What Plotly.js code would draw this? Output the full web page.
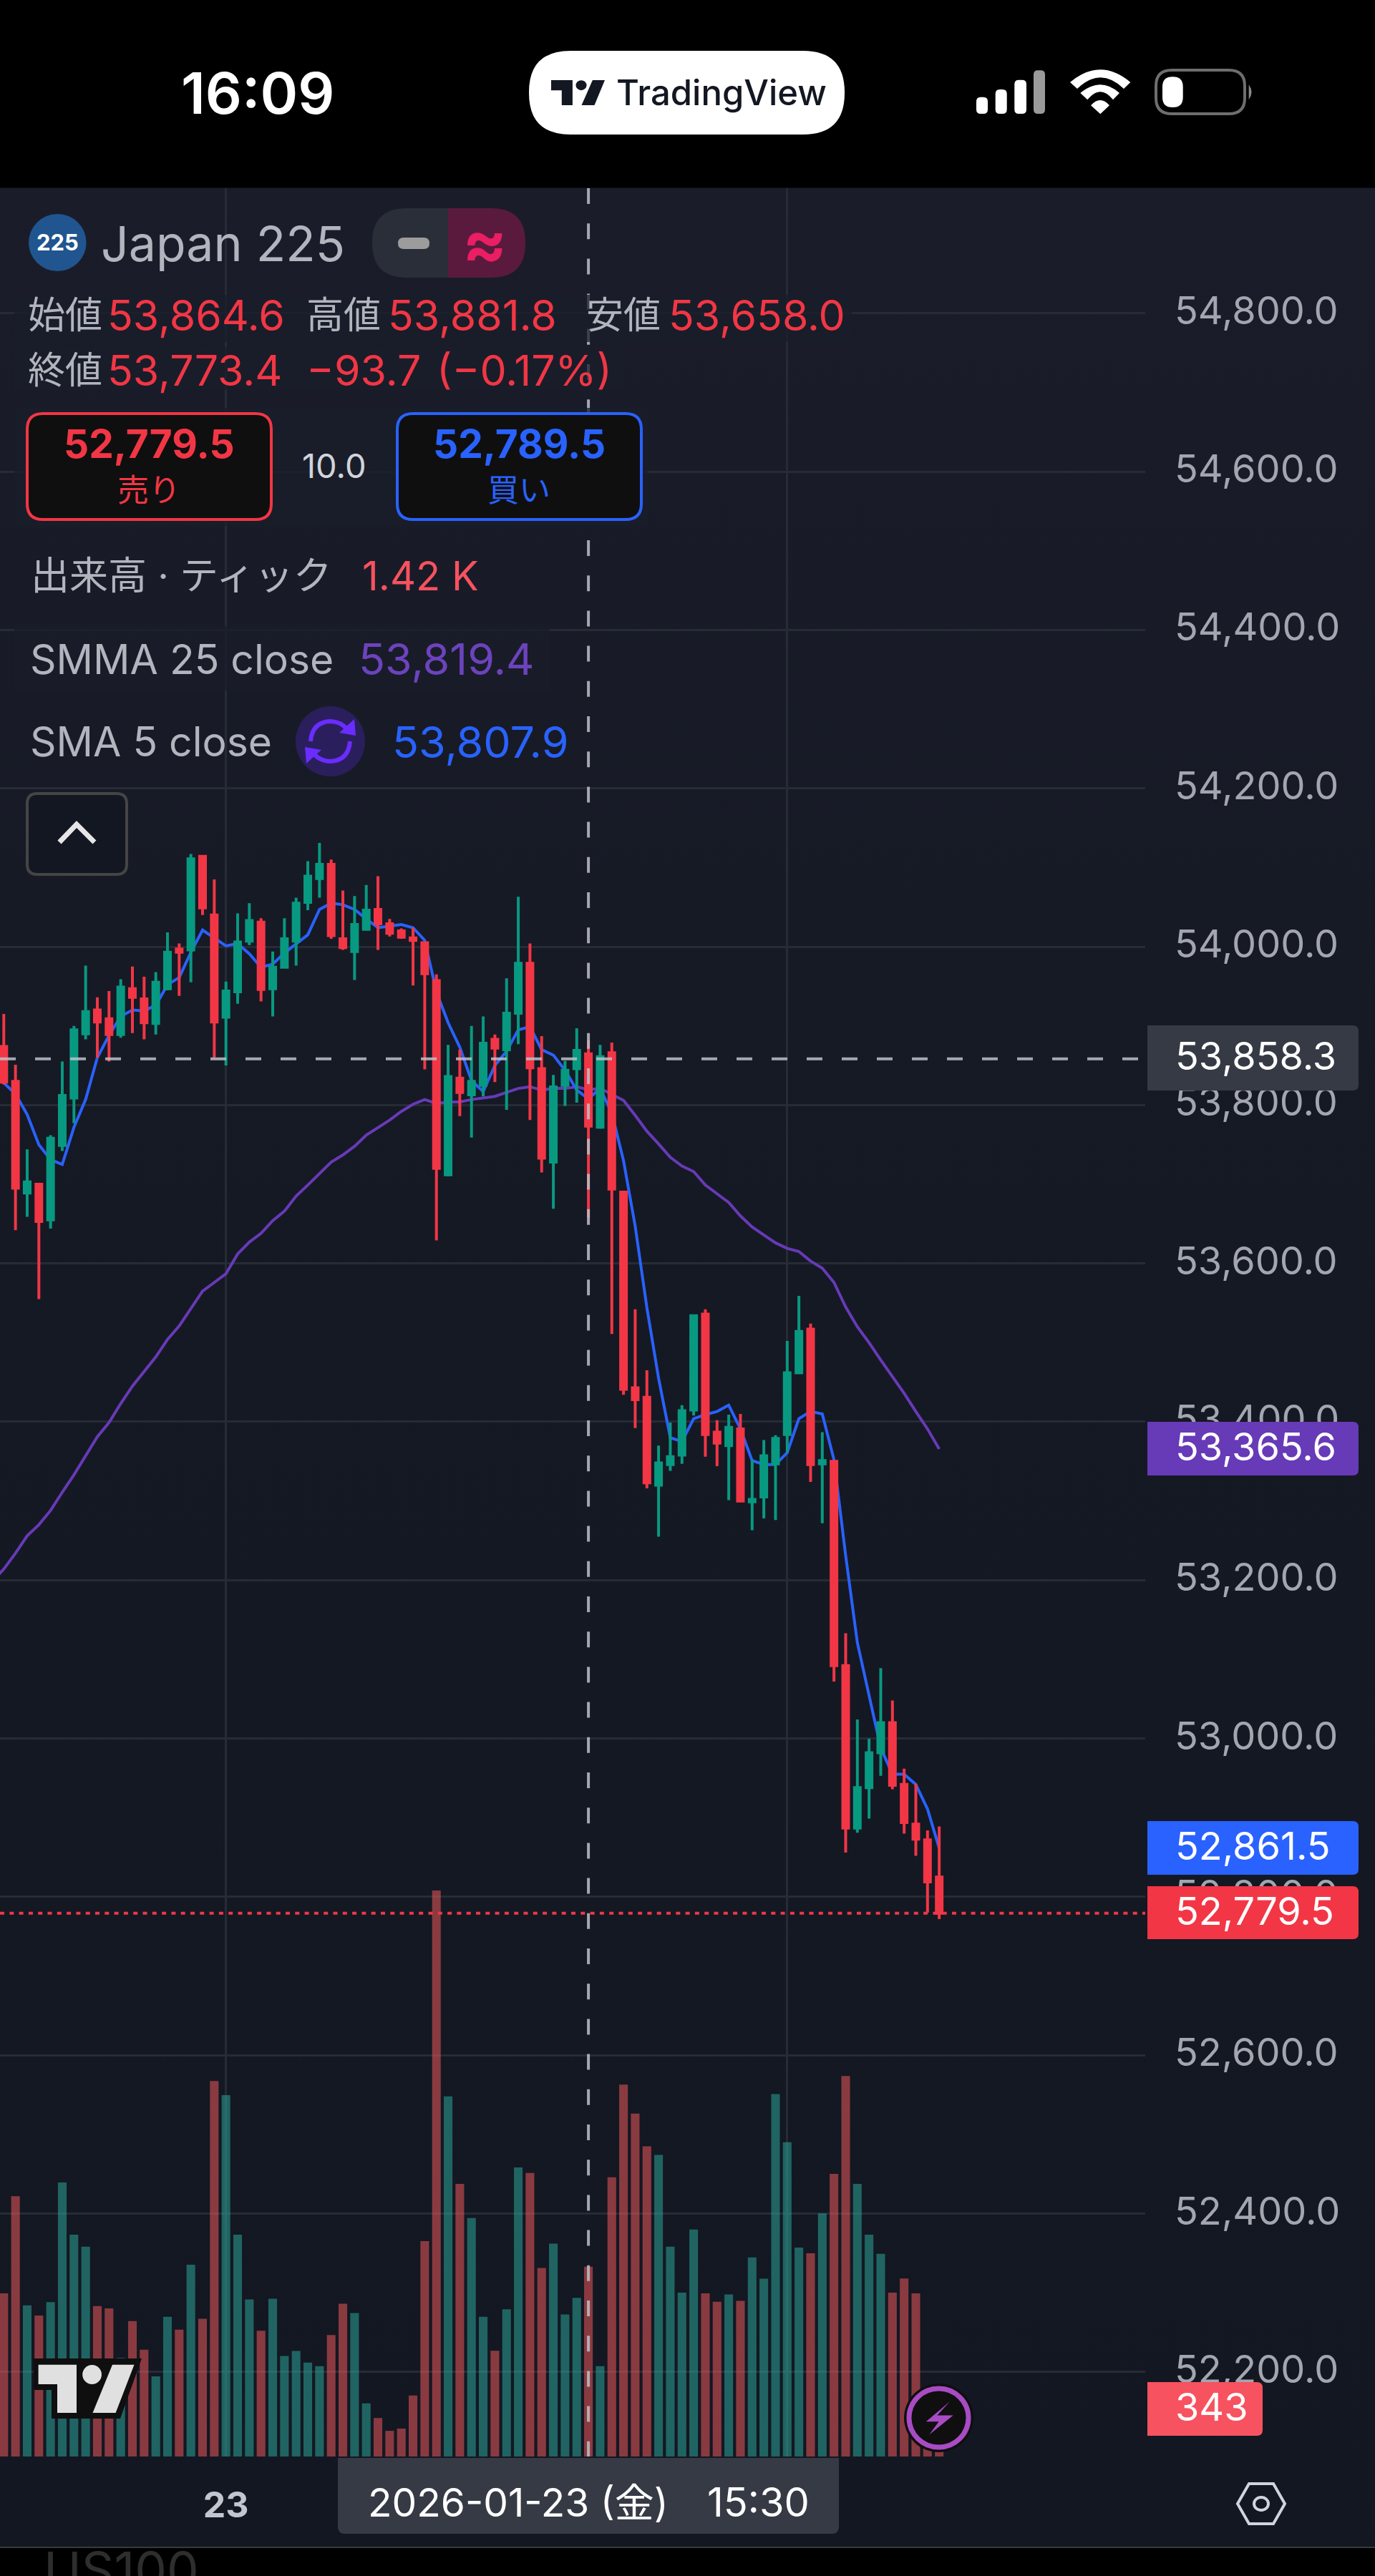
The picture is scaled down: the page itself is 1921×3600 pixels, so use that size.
<!DOCTYPE html>
<html><head><meta charset="utf-8">
<script src="https://cdn.plot.ly/plotly-3.0.1.min.js"></script>
<style>
html,body{margin:0;padding:0;width:1921px;height:3600px;overflow:hidden;
background:linear-gradient(to bottom,#000 0,#000 262px,#1a1d29 263px,#151924 1700px,#131722 3559px,#3a3a3a 3559px,#3a3a3a 3561px,#000 3561px,#000 3600px);}
#chart{width:1921px;height:3600px;}
</style></head><body><div id="chart"></div>
<script>
const barIndex = Array.from({length:81},(_,i)=>i);
const lineIndex = [-1].concat(barIndex);
const openPrices = [53874,53830,53689,53700,53655,53749,53809,53890,53920,53909,53889,53947,53934,53903,53947,53997,53996,54114,54040,53911,53943,54007,54031,53947,53974,54007,54056,54086,54104,54010,53994,54022,54047,54029,54020,54011,54005,53957,53712,53834,53813,53825,53883,53870,53916,53979,53846,53728,53825,53846,53864.6,53772,53866,53690,53443,53431,53320,53346,53358,53415,53536,53387,53370,53391,53299,53305,53347,53384,53462,53517,53347,53350,53092,52887,52938,52982,53020,52942,52892,52872,52825];
const highPrices = [53915,53851,53744,53701,53762,53855,53900,53976,53936,53944,53959,53975,53962,53968,54018,54004,54117,54114,54085,53956,54042,54055,54036,53994,54036,54062,54108,54131,54110,54071,54064,54078,54089,54035,54023,54024,54005,53965,53876,53870,53900,53912,53889,53960,54063,54004,53887,53838,53856,53897,53881.8,53876,53879,53690,53542,53465,53370,53399,53421,53534,53542,53402,53409,53410,53352,53377,53383,53502,53559,53524,53387,53350,53133,53024,53000,53089,53048,52962,52943,52884,52889];
const lowPrices = [53826,53642,53659,53555,53644,53742,53777,53883,53860,53855,53885,53891,53883,53889,53945,53938,53955,54040,53860,53850,53928,54002,53931,53912,53974,53976,54046,54062,54010,53996,53958,54022,53996,54013,54010,53951,53845,53629,53710,53786,53759,53811,53829,53794,53877,53781,53715,53669,53799,53803,53658.0,53770,53511,53434,53392,53316,53255,53338,53347,53408,53356,53344,53301,53300,53263,53278,53276,53361,53462,53324,53272,53072,52856,52881,52899,52953,52936,52880,52852,52780,52772];
const closePrices = [53829,53695,53703,53653,53758,53812,53895,53918,53905,53889,53949,53936,53904,53955,53993,53993,54111,54049,53905,53944,54006,54033,53946,53974,54010,54055,54089,54104,54014,53999,54028,54046,54029,54017,54012,54008,53966,53720,53836,53816,53830,53878,53872,53916,53979,53847,53733,53823,53844,53869,53773.4,53861,53694,53441,53428,53323,53348,53356,53414,53534,53384,53373,53393,53300,53302,53357,53379,53462,53514,53346,53351,53092,52887,52938,52982,53020,52941,52894,52873,52819,52779.5];
const sma5Close = [53834,53828,53814,53788,53750,53731,53725,53772,53807,53860,53888,53912,53920,53919,53926,53952,53961,53993,54021,54011,54001,54004,53991,53974,53978,53992,54004,54015,54047,54055,54053,54047,54035,54024,54026,54028,54024,54008,53943,53904,53873,53831,53817,53850,53868,53895,53899,53870,53863,53844,53819,53807.9,53821,53790,53730,53647,53544,53455,53380,53375,53404,53409,53413,53421,53391,53351,53346,53346,53361,53404,53413,53410,53352,53231,53121,53056,52988,52955,52955,52942,52911,52861.5];
const smma25Close = [53198,53214,53234,53256,53270,53288,53311,53333,53357,53381,53399,53423,53445,53463,53482,53504,53521,53543,53565,53576,53587,53612,53627,53638,53654,53666,53685,53699,53713,53728,53737,53748,53762,53771,53781,53792,53801,53807,53802,53804,53804,53807,53809,53811,53816,53821,53823,53819,53821,53821,53823,53819.4,53821,53813,53806,53787,53767,53751,53734,53723,53716,53699,53688,53677,53660,53646,53636,53626,53619,53615,53603,53594,53576,53545,53520,53500,53478,53457,53436,53413,53391,53365.6];
const volumes = [1221,1947,1131,1054,1155,2050,1659,1570,1126,1108,737,1013,799,600,1045,949,1435,1030,2809,2703,1659,1175,941,1180,752,789,703,676,909,1143,1074,398,288,192,209,457,1612,4234,2694,2040,1784,1045,791,1101,2163,2121,1411,1593,1062,1187,1420,676,2089,2782,2566,2320,2256,1570,1226,1698,1221,1158,1212,1165,1489,1330,2711,2352,1563,1521,1819,2114,2846,2040,1659,1516,1226,1332,1221,400,343];
const priceTicks = [52200,52400,52600,52800,53000,53200,53400,53600,53800,54000,54200,54400,54600,54800];
const timeTickIndex = [19,67];
const timeTickLabels = ['23',''];
const crosshairIndex = 50, crosshairPrice = 53858.3, lastPrice = 52779.5;

const FONT = "Inter, 'Noto Sans CJK JP', sans-serif";
const UP='#089981', DOWN='#F23645', BLUE='#2962FF', PURPLE='#673AB7', GRID='#272b36', LABEL='#b2b5be';
const PW=1921, PH=3600;
const X=p=>p/PW, Y=p=>1-p/PH;

// pixel helpers for the app chrome around the chart
function pth(c){let s='',ix=true;c.forEach(v=>{if(typeof v==='string'){s+=v+' ';ix=true;}else{s+=(ix?X(v):Y(v)).toFixed(6)+' ';ix=!ix;}});return s;}
function rr(x0,y0,x1,y1,r){const [a,b,c,d]=Array.isArray(r)?r:[r,r,r,r];
 return pth(['M',x0+a,y0,'L',x1-b,y0,'Q',x1,y0,x1,y0+b,'L',x1,y1-c,'Q',x1,y1,x1-c,y1,'L',x0+d,y1,'Q',x0,y1,x0,y1-d,'L',x0,y0+a,'Q',x0,y0,x0+a,y0,'Z']);}
const shapes=[];
function S(path,fill,line,w){shapes.push({type:'path',xref:'paper',yref:'paper',path,layer:'above',fillcolor:fill||'rgba(0,0,0,0)',line:{color:line||'rgba(0,0,0,0)',width:w||0}});}
function O(x0,y0,x1,y1,fill,line,w){shapes.push({type:'circle',xref:'paper',yref:'paper',x0:X(x0),x1:X(x1),y0:Y(y0),y1:Y(y1),layer:'above',fillcolor:fill||'rgba(0,0,0,0)',line:{color:line||'rgba(0,0,0,0)',width:w||0}});}
const ann=[];
function T(x,y,text,size,color,o){o=o||{};ann.push({xref:'paper',yref:'paper',x:X(x),y:Y(y),text,showarrow:false,xanchor:o.a||'left',yanchor:'middle',borderpad:0,font:{family:o.f||FONT,size,color,weight:o.w||400}});}
function logo(x,y,w,h,col){const sx=w/133.9,sy=h/67.3,px=a=>x+(a-53.6)*sx,py=a=>y+(a-3304.7)*sy;
 S(pth(['M',px(53.6),py(3304.7),'L',px(107),py(3304.7),'L',px(107),py(3372),'L',px(80),py(3372),'L',px(80),py(3332),'L',px(53.6),py(3332),'Z']),col);
 O(px(115.2),py(3305.1),px(142),py(3331.9),col);
 S(pth(['M',px(157),py(3304.7),'L',px(187.5),py(3304.7),'L',px(161.6),py(3372),'L',px(129.5),py(3372),'Z']),col);}

// crosshair and last-price lines
shapes.push({type:'line',xref:'x',yref:'paper',x0:crosshairIndex,x1:crosshairIndex,y0:Y(263),y1:Y(3433),layer:'above',line:{color:'rgba(190,193,202,0.85)',width:4,dash:'22px,27.2px'}});
shapes.push({type:'line',xref:'paper',yref:'y2',x0:0,x1:X(1600),y0:crosshairPrice,y1:crosshairPrice,layer:'above',line:{color:'rgba(190,193,202,0.85)',width:4,dash:'22px,27px'}});
shapes.push({type:'line',xref:'paper',yref:'y2',x0:0,x1:X(1600),y0:lastPrice,y1:lastPrice,layer:'above',line:{color:DOWN,width:4,dash:'6px,7.3px'}});

// legend row backdrops: they dim the grid and crosshair behind the text
const BACKDROP='rgba(26,29,41,0.75)';
S(rr(20,412,1190,478,0),BACKDROP);
S(rr(20,485,870,545,0),BACKDROP);
S(rr(20,570,905,735,0),BACKDROP);
S(rr(20,875,768,965,0),BACKDROP);

// status bar
T(360,130,'16:09',80,'#fff',{a:'center',w:600});
S(rr(739,71,1180,188,58),'#fff');
logo(770,112,75,35,'#131722');
T(860,130,'TradingView',49,'#131722',{w:500});
[[1364,135.7,1380],[1390.7,125,1406.7],[1417.3,111.7,1434]].forEach(b=>S(rr(b[0],b[1],b[2],159,6),'#fff'));
S(rr(1444,98.3,1460,159,6),'#9a9a9a');
S(pth(['M',1505,124,'L',1495,115,'Q',1537.3,79.7,1579.3,115,'L',1570,124,'Q',1537.3,92.7,1505,124,'Z']),'#fff');
S(pth(['M',1519.3,139.3,'L',1509.3,130,'Q',1537.3,106.7,1564,130,'L',1555,139.3,'Q',1537.3,117.3,1519.3,139.3,'Z']),'#fff');
S(pth(['M',1524,147.3,'Q',1537.3,132.7,1550,147.3,'L',1537.3,159.3,'Z']),'#fff');
S(rr(1615,98,1739,159,22),null,'#6e6e6e',4);
S(rr(1624,107.3,1652.7,150,14),'#fff');
S(pth(['M',1744.7,118.3,'Q',1752.3,128.8,1744.7,139.3,'Z']),'#8a8a8a');

// legend block
O(40,299,120.6,379,'#205590');
T(80.3,339,'225',31,'#fff',{a:'center',w:700});
T(140,340,'Japan 225',68,LABEL);
S(rr(520,291,626,388,[48,0,0,48]),'#2a2e39');
S(rr(626,291,734,388,[0,48,48,0]),'#591a3d');
S(rr(556,332,600,348,8),'#9c9c9c');
T(677,338,'≈',92,'#e91e63',{a:'center',w:700});
T(38,440,'始値',52,LABEL); T(149,440,'53,864.6',59,DOWN);
T(427,440,'高値',52,LABEL); T(541,440,'53,881.8',59,DOWN);
T(818,440,'安値',52,LABEL); T(933,440,'53,658.0',59,DOWN);
T(38,517,'終値',52,LABEL); T(149,517,'53,773.4',59,DOWN);
T(427,517,'−93.7',59,DOWN); T(609,517,'(−0.17%)',59,DOWN);
S(rr(38,578,379,726,22),'#0f0f0f',DOWN,4);
T(208,620,'52,779.5',55,DOWN,{a:'center',w:700});
T(208,685,'売り',44,DOWN,{a:'center'});
T(467,650,'10.0',47,'#d1d4dc',{a:'center'});
S(rr(555,578,896,726,22),'#0f0f0f',BLUE,4);
T(725,620,'52,789.5',55,BLUE,{a:'center',w:700});
T(725,685,'買い',44,BLUE,{a:'center'});
T(42,805,'出来高 · ティック',54,LABEL); T(505,805,'1.42 K',56,'#f7525f');
T(41,921,'SMMA 25 close',57,LABEL); T(500,921,'53,819.4',61,'#6c43bd');
T(41,1037,'SMA 5 close',57,LABEL); T(547,1037,'53,807.9',61,BLUE);
O(413,987,510,1085,'#2a1f5c');
S(pth(['M',434,1036,'Q',436,1009,462,1008,'Q',480,1009,488,1024]),null,'#6a2cff',6);
S(pth(['M',474,1024,'L',497,1028,'L',495,1005,'Z']),'#6a2cff');
S(pth(['M',489,1036,'Q',487,1063,461,1064,'Q',443,1063,435,1048]),null,'#6a2cff',6);
S(pth(['M',449,1048,'L',426,1044,'L',428,1067,'Z']),'#6a2cff');
S(rr(38,1109,177,1222,14),'#131722','#454545',4);
S(pth(['M',83,1177,'L',107,1152,'L',132,1177]),null,'#e6e6e6',7);

// price-scale tags
function tag(y0,y1,x1,fill,text){S(rr(1603,y0,x1,y1,[0,8,8,0]),fill);T(1641,(y0+y1)/2-3,text,54,'#fff');}
tag(1433,1524,1898,'#363a45','53,858.3');
tag(1987,2062,1898,PURPLE,'53,365.6');
tag(2545,2620,1898,BLUE,'52,861.5');
tag(2636,2710,1898,DOWN,'52,779.5');
tag(3329,3404,1764,'#f7525f','343');

// time-scale tag
S(rr(472,3435,1172,3541,[0,0,10,10]),'#363a45');
T(513,3497,'2026-01-23 (金)',55,'#fff');
T(987,3497,'15:30',56,'#fff');

// watermark logo
S(pth(['M',47,3296,'L',198,3296,'L',168,3380,'L',72,3380,'L',72,3340,'L',47,3340,'Z']),'#0f0f0f');
logo(53.6,3304.7,133.9,67.3,'#e0e0e0');

// lightning badge
O(1263,3331,1360,3427,'#0f0f0f');
O(1270,3338,1353,3420,'#0f0f0f','#a84bc4',7);
S(pth(['M',1327.2,3356,'L',1309.4,3375.6,'L',1331.7,3375.6,'L',1298.2,3402.5,'L',1311.6,3384.2,'L',1293.8,3384.2,'Z']),'#a84bc4');

// settings hexagon
S(pth(['M',1729,3499,'L',1745,3471,'L',1779,3471,'L',1795,3499,'L',1779,3527,'L',1745,3527,'Z']),null,'#d1d4dc',4);
O(1752,3490,1772,3508,null,'#d1d4dc',4);

// clipped text below the chart
T(60,3592,'US100',71,'#2e2e2e');

const volColors = closePrices.map((c,i)=> c>=openPrices[i] ? 'rgba(43,177,162,0.5)' : 'rgba(255,93,94,0.5)');

const traces=[
 {type:'bar',x:barIndex,y:volumes,xaxis:'x',yaxis:'y',marker:{color:volColors,line:{width:0}},width:0.74,hoverinfo:'skip',name:'出来高'},
 {type:'scatter',mode:'lines',x:lineIndex,y:smma25Close,xaxis:'x',yaxis:'y2',line:{color:PURPLE,width:4},name:'SMMA 25 close'},
 {type:'scatter',mode:'lines',x:lineIndex,y:sma5Close,xaxis:'x',yaxis:'y2',line:{color:BLUE,width:4},name:'SMA 5 close'},
 {type:'candlestick',x:barIndex,open:openPrices,high:highPrices,low:lowPrices,close:closePrices,xaxis:'x',yaxis:'y3',width:0.55,whiskerwidth:0,
  increasing:{line:{color:UP,width:4},fillcolor:UP},decreasing:{line:{color:DOWN,width:4},fillcolor:DOWN},name:'Japan 225'}
];
const priceRange=[52093.3,54957.9];
const layout={
 width:PW,height:PH,margin:{l:0,r:0,t:0,b:0},autosize:false,showlegend:false,
 paper_bgcolor:'rgba(0,0,0,0)',plot_bgcolor:'rgba(0,0,0,0)',hovermode:false,
 xaxis:{domain:[0,1600/PW],range:[-0.324,97.62],tickmode:'array',tickvals:timeTickIndex,ticktext:timeTickLabels,
  showgrid:true,gridcolor:GRID,gridwidth:3,zeroline:false,showline:false,ticks:'',ticklabelstandoff:34,
  tickfont:{family:FONT,size:50,color:'#c3c6ce',weight:700},rangeslider:{visible:false},fixedrange:true},
 yaxis:{domain:[Y(3433),Y(263)],range:[0,16970],visible:false,showgrid:false,zeroline:false,fixedrange:true},
 yaxis2:{overlaying:'y',side:'right',anchor:'x',range:priceRange,tickmode:'array',tickvals:priceTicks,tickformat:',.1f',
  showgrid:true,gridcolor:GRID,gridwidth:3,zeroline:false,showline:false,ticks:'',ticklabelstandoff:40,ticklabelshift:-4,
  tickfont:{family:FONT,size:54,color:'#a3a6af'},fixedrange:true},
 yaxis3:{overlaying:'y',side:'right',anchor:'x',range:priceRange,visible:false,showgrid:false,zeroline:false,fixedrange:true},
 shapes,annotations:ann
};
Plotly.newPlot('chart',traces,layout,{staticPlot:true,displayModeBar:false,responsive:false});
</script></body></html>
